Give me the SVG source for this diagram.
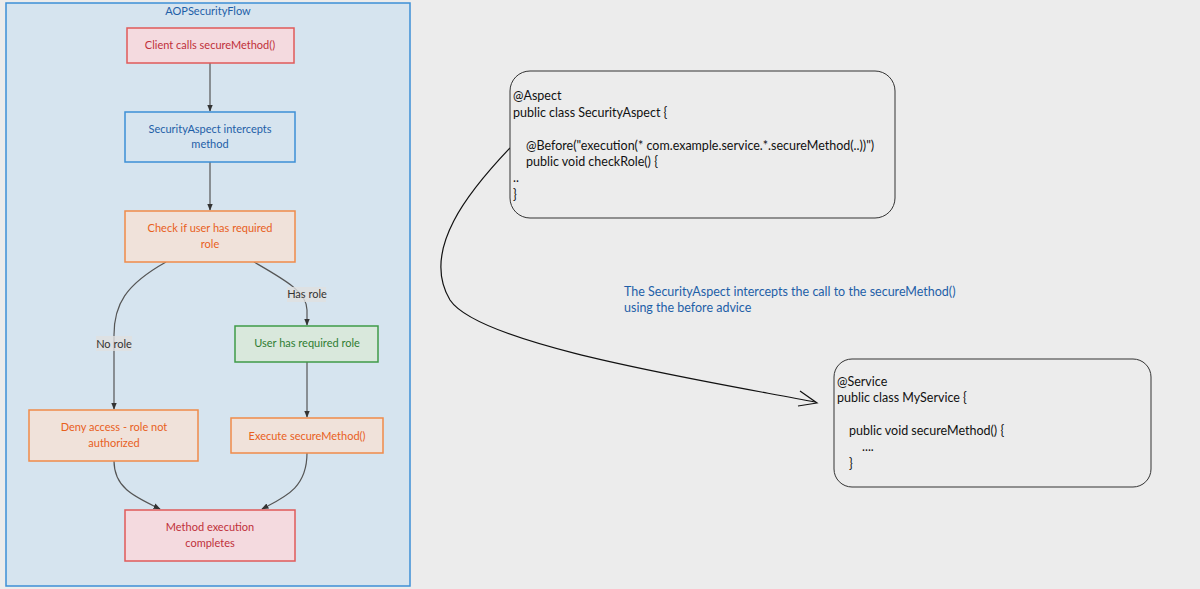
<svg xmlns="http://www.w3.org/2000/svg" width="1200" height="589" viewBox="0 0 1200 589">
<style>
text{font-family:Lato,"Noto Sans","Liberation Sans",sans-serif;font-size:11px}
.c{text-anchor:middle}
.e{fill:none;stroke:#555;stroke-width:1.2}
.code{font-size:12.5px;fill:#111}
.lbl{fill:#333;font-size:11px}
</style>
<defs>
<marker id="a" viewBox="0 0 10 10" refX="9" refY="5" markerWidth="6" markerHeight="6" orient="auto"><path d="M0,1 L10,5 L0,9 z" fill="#333"/></marker>
</defs>
<rect width="1200" height="589" fill="#ececec"/>
<g id="container">
<rect x="6" y="3" width="404" height="583" fill="#d6e4ef" stroke="#3d8fd6" stroke-width="1.5"/>
<text x="208" y="15" class="c" fill="#1e5fa8">AOPSecurityFlow</text>
</g>
<g id="edges">
<path class="e" d="M210,63 L210,111" marker-end="url(#a)"/>
<path class="e" d="M210,162 L210,210" marker-end="url(#a)"/>
<path class="e" d="M166,262 C125,285 114,305 114,335 L114,409" marker-end="url(#a)"/>
<path class="e" d="M254,262 C285,280 307,292 307,310 L307,325" marker-end="url(#a)"/>
<path class="e" d="M307,362 L307,417" marker-end="url(#a)"/>
<path class="e" d="M114,461 C114,488 135,497 160,509" marker-end="url(#a)"/>
<path class="e" d="M307,453 C307,488 285,497 262,509" marker-end="url(#a)"/>
<rect x="96" y="336" width="36" height="15" fill="#e0e0e0" opacity="0.8"/>
<text x="114" y="348" class="c lbl">No role</text>
<rect x="287" y="287" width="39" height="15" fill="#e0e0e0" opacity="0.8"/>
<text x="307" y="298" class="c lbl">Has role</text>
<path d="M510,148 C470,190 420,250 450,300 C480,345 700,380 815,402" fill="none" stroke="#111" stroke-width="1.2"/>
<polyline points="800,391 817,403 798,406" fill="none" stroke="#111" stroke-width="1.2"/>
</g>
<g id="n1"><rect x="127" y="28" width="167" height="35" fill="#f4dadf" stroke="#e05a5a" stroke-width="1.5"/><text x="210" y="49" class="c" fill="#c0303a">Client calls secureMethod()</text></g>
<g id="n2"><rect x="125" y="112" width="170" height="50" fill="#d6e4ef" stroke="#3d8fd6" stroke-width="1.5"/><text x="210" y="133" class="c" fill="#1e5fa8">SecurityAspect intercepts</text><text x="210" y="148" class="c" fill="#1e5fa8">method</text></g>
<g id="n3"><rect x="125" y="211" width="170" height="51" fill="#f0e2da" stroke="#f08a4a" stroke-width="1.5"/><text x="210" y="232" class="c" fill="#e8601c">Check if user has required</text><text x="210" y="248" class="c" fill="#e8601c">role</text></g>
<g id="n4"><rect x="235" y="326" width="143" height="36" fill="#d9e8dc" stroke="#3f9a48" stroke-width="1.5"/><text x="307" y="347" class="c" fill="#2e7d32">User has required role</text></g>
<g id="n5"><rect x="29" y="410" width="169" height="51" fill="#f0e2da" stroke="#f08a4a" stroke-width="1.5"/><text x="114" y="431" class="c" fill="#e8601c">Deny access - role not</text><text x="114" y="447" class="c" fill="#e8601c">authorized</text></g>
<g id="n6"><rect x="231" y="418" width="152" height="35" fill="#f0e2da" stroke="#f08a4a" stroke-width="1.5"/><text x="307" y="440" class="c" fill="#e8601c">Execute secureMethod()</text></g>
<g id="n7"><rect x="125" y="510" width="170" height="51" fill="#f4dadf" stroke="#e05a5a" stroke-width="1.5"/><text x="210" y="531" class="c" fill="#c0303a">Method execution</text><text x="210" y="547" class="c" fill="#c0303a">completes</text></g>
<g id="aspect">
<rect x="510" y="71" width="385" height="147" rx="20" fill="#ececec" stroke="#333" stroke-width="1"/>
<text class="code" x="513" y="100">@Aspect</text>
<text class="code" x="513" y="117">public class SecurityAspect {</text>
<text class="code" x="526" y="150">@Before("execution(* com.example.service.*.secureMethod(..))")</text>
<text class="code" x="526" y="166">public void checkRole() {</text>
<text class="code" x="513" y="182">..</text>
<text class="code" x="513" y="199">}</text>
</g>
<g id="note"><text x="624" y="296" fill="#1e5fa8" font-size="12.5" style="font-size:12.5px">The SecurityAspect intercepts the call to the secureMethod()</text><text x="624" y="312" fill="#1e5fa8" style="font-size:12.5px">using the before advice</text></g>
<g id="service">
<rect x="834" y="359" width="317" height="128" rx="18" fill="#ececec" stroke="#333" stroke-width="1"/>
<text class="code" x="837" y="386">@Service</text>
<text class="code" x="837" y="402">public class MyService {</text>
<text class="code" x="849" y="435">public void secureMethod() {</text>
<text class="code" x="862" y="451">....</text>
<text class="code" x="849" y="468">}</text>
</g>
</svg>
